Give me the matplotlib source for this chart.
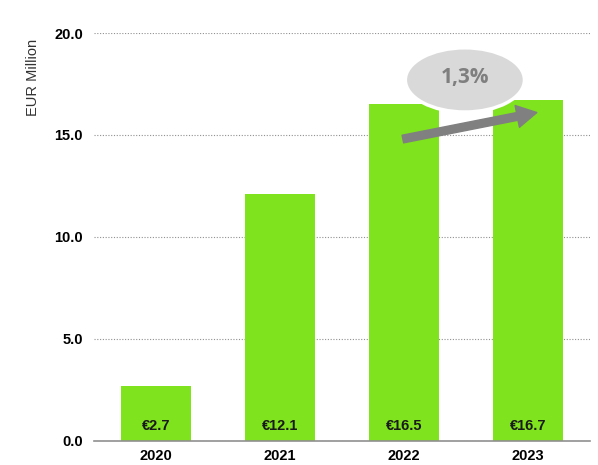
import matplotlib.pyplot as plt
from matplotlib.patches import Ellipse

years = ['2020', '2021', '2022', '2023']
revenue = [2.7, 12.1, 16.5, 16.7]
value_labels = ['€2.7', '€12.1', '€16.5', '€16.7']
growth_label = '1,3%'
yticks = [0, 5, 10, 15, 20]

plt.rcParams['font.family'] = ['Liberation Sans', 'DejaVu Sans']

fig = plt.figure(figsize=(5.98, 4.65), dpi=100)
ax = fig.add_axes([0.157, 0.052, 0.83, 0.877])

x = range(len(years))
ax.bar(x, revenue, width=0.565, color='#7fe31e', zorder=2)

for xi, lab in zip(x, value_labels):
    ax.text(xi, 0.72, lab, ha='center', va='center', fontsize=10.5,
            fontweight='bold', color='#1a1a1a', zorder=3)

ax.set_xlim(-0.5, 3.5)
ax.set_ylim(0, 20)
ax.set_yticks(yticks)
ax.set_yticklabels([f'{v:.1f}' for v in yticks], fontsize=10.5, fontweight='bold')
ax.set_xticks(list(x))
ax.set_xticklabels(years, fontsize=10.5, fontweight='bold')
ax.tick_params(length=0, pad=6)
ax.tick_params(axis='y', pad=8)
ax.yaxis.grid(True, linestyle=(0, (1, 1.5)), color='#909090', linewidth=0.8, zorder=0)
for s in ['top', 'right', 'left']:
    ax.spines[s].set_visible(False)
ax.spines['bottom'].set_color('#909090')
ax.spines['bottom'].set_linewidth(1.2)
ax.set_ylabel('EUR Million', fontsize=10.5, color='#333333')
ax.yaxis.set_label_coords(-0.109, 0.89)

# growth bubble and arrow
ell = Ellipse((2.49, 17.7), 0.96, 3.15, facecolor='#d9d9d9', edgecolor='white',
              linewidth=2.5, zorder=4)
ax.add_patch(ell)
ax.text(2.49, 17.8, growth_label, ha='center', va='center', fontsize=15,
        fontweight='bold', color='#7f7f7f', family=['Open Sans', 'DejaVu Sans'], zorder=5)
ax.annotate('', xy=(3.07, 16.1), xytext=(1.99, 14.8),
            arrowprops=dict(arrowstyle='simple,head_length=0.9,head_width=1.0,tail_width=0.35',
                            color='#808080', mutation_scale=16, shrinkA=0, shrinkB=0),
            zorder=5)

fig.savefig('out.png', dpi=100)
